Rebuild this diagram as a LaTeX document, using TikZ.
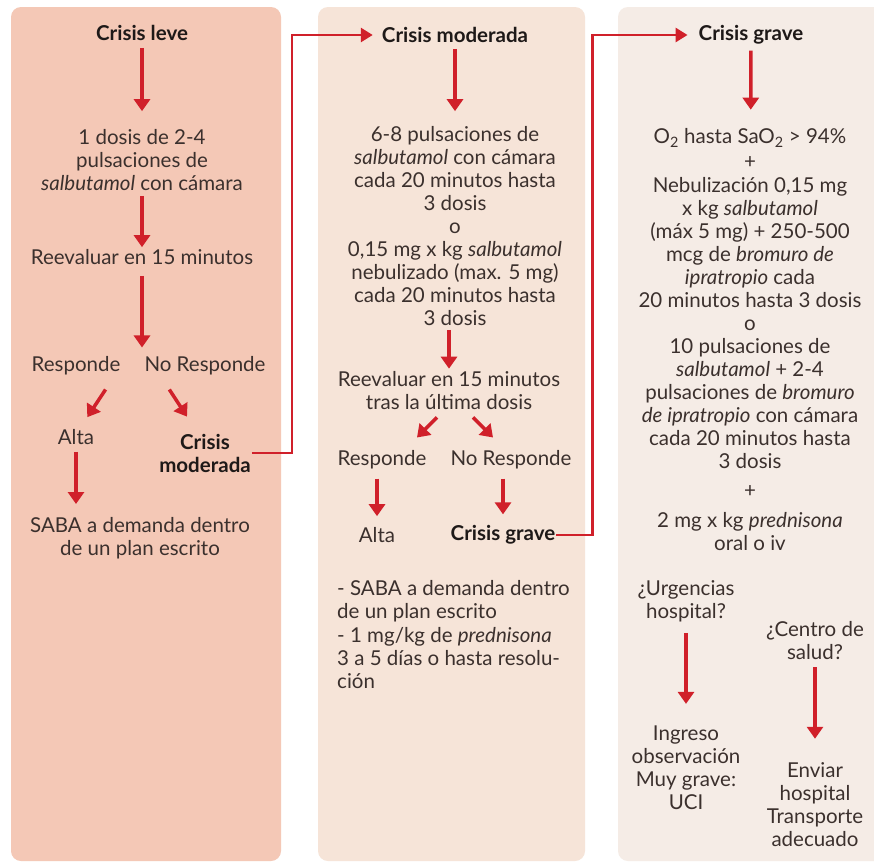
\documentclass[tikz,border=0pt]{standalone}
\usepackage{fontspec}
\setmainfont{Lato}
\usetikzlibrary{arrows.meta}
\definecolor{PanelLeve}{HTML}{F4C8B6}
\definecolor{PanelMod}{HTML}{F6E4D8}
\definecolor{PanelGrave}{HTML}{F5ECE6}
\definecolor{Flecha}{HTML}{D0202A}
\definecolor{Texto}{HTML}{3B302D}
\definecolor{Titulo}{HTML}{1E1918}
\tikzset{
  txt/.style={align=center,text=Texto,inner sep=1pt,font=\fontsize{20.5}{23}\selectfont},
  ttl/.style={txt,text=Titulo,font=\fontsize{20.5}{23}\selectfont\bfseries},
  arr/.style={draw=Flecha,line width=3.5pt,-{Triangle[length=12pt,width=16pt]}},
  elbow/.style={draw=Flecha,line width=2.8pt,-{Triangle[length=12pt,width=14pt]}}
}

\begin{document}
\begin{tikzpicture}[x=1pt,y=-1pt]
\useasboundingbox (0,0) rectangle (874,862);
\fill[white] (0,0) rectangle (874,862);
\fill[PanelLeve,rounded corners=10pt] (11,7) rectangle (281,861);
\fill[PanelMod,rounded corners=10pt] (318,7) rectangle (585,861);
\fill[PanelGrave,rounded corners=10pt] (618,7) rectangle (890,861);
% crisis leve
\node[ttl] (leve) at (142,33) {Crisis leve};
\node[txt] (d1) at (142,160) {1 dosis de 2-4\\pulsaciones de\\\textit{salbutamol} con cámara};
\node[txt] (re1) at (142,257) {Reevaluar en 15 minutos};
\node[txt] (si1) at (76,366) {Responde};
\node[txt] (no1) at (205,366) {No Responde};
\node[txt] (alta1) at (76,437) {Alta};
\node[ttl] (mod1) at (205,453) {Crisis\\moderada};
\node[txt] (saba1) at (140,538) {SABA a demanda dentro\\de un plan escrito};
\coordinate (split1) at ([yshift=8pt]re1.south |- si1.north);
\draw[arr,shorten <=6pt,shorten >=17pt] (leve) -- (d1);
\draw[arr,shorten <=4pt,shorten >=1pt] (d1) -- (re1);
\draw[arr,shorten <=10pt] (re1) -- (split1);
\draw[arr] ([xshift=-16pt,yshift=-13pt]si1.south east) -- ([xshift=-8pt,yshift=11pt]alta1.north east);
\draw[arr] ([xshift=26pt,yshift=-13pt]no1.south west) -- ([xshift=-18pt,yshift=16pt]mod1.north);
\draw[arr,shorten <=6pt,shorten >=12pt] (alta1.south) -- (alta1.south |- saba1.north);
% crisis moderada
\node[ttl] (mod2) at (455,35) {Crisis moderada};
\node[txt] (d2) at (455,226) {6-8 pulsaciones de\\\textit{salbutamol} con cámara\\cada 20 minutos hasta\\3 dosis\\o\\0,15 mg x kg \textit{salbutamol}\\nebulizado (max. 5 mg)\\cada 20 minutos hasta\\3 dosis};
\node[txt] (re2) at (449,391) {Reevaluar en 15 minutos\\tras la última dosis};
\node[txt] (si2) at (382,460) {Responde};
\node[txt] (no2) at (511,460) {No Responde};
\node[txt] (alta2) at (377,535) {Alta};
\node[ttl] (grave2) at (503,535) {Crisis grave};
\node[txt,align=left,anchor=west] (saba2) at (336,635) {- SABA a demanda dentro\\de un plan escrito\\[1pt]- 1 mg/kg de \textit{prednisona}\\3 a 5 días o hasta resolu-\\ción};
\draw[elbow,shorten >=8pt] (mod1.east) -- ++(40pt,0) |- (mod2.west);
\draw[arr,shorten <=5pt,shorten >=14pt] (d2.north |- mod2.south) -- (d2.north);
\draw[arr,shorten <=3pt,shorten >=2pt] (re2.north |- d2.south) -- (re2.north);
\draw[arr] ([xshift=-12pt,yshift=-6pt]re2.south) -- ([xshift=35pt,yshift=12pt]si2.north);
\draw[arr] ([xshift=24pt,yshift=-6pt]re2.south) -- ([xshift=-18pt,yshift=12pt]no2.north);
\draw[arr,shorten <=8pt,shorten >=10pt] (si2.south -| alta2.north) -- (alta2.north);
\draw[arr,shorten <=8pt,shorten >=10pt] (grave2.north |- no2.south) -- (grave2.north);
% crisis grave
\node[ttl] (grave3) at (751,35) {Crisis grave};
\node[txt] (trat3) at (750,340) {O\textsubscript{2} hasta SaO\textsubscript{2} > 94\%\\[2pt]+\\[1pt]Nebulización 0,15 mg\\x kg \textit{salbutamol}\\(máx 5 mg) + 250-500\\mcg de \textit{bromuro de}\\\textit{ipratropio} cada\\20 minutos hasta 3 dosis\\o\\10 pulsaciones de\\\textit{salbutamol} + 2-4\\pulsaciones de \textit{bromuro}\\\textit{de ipratropio} con cámara\\cada 20 minutos hasta\\3 dosis\\[6pt]+\\[7pt]2 mg x kg \textit{prednisona}\\oral o iv};
\node[txt] (urg) at (686,601) {¿Urgencias\\hospital?};
\node[txt] (centro) at (815,641) {¿Centro de\\salud?};
\node[txt] (ingreso) at (686,768) {Ingreso\\observación\\Muy grave:\\UCI};
\node[txt] (enviar) at (815,805) {Enviar\\hospital\\Transporte\\adecuado};
\draw[elbow,shorten >=10pt] (grave2.east) -- ++(36pt,0) |- (grave3.west);
\draw[arr,shorten <=5pt,shorten >=18pt] (grave3) -- (trat3);
\draw[arr,shorten <=10pt,shorten >=21pt] (urg) -- (ingreso);
\draw[arr,shorten <=6pt,shorten >=23pt] (centro) -- (enviar);
\end{tikzpicture}
\end{document}
